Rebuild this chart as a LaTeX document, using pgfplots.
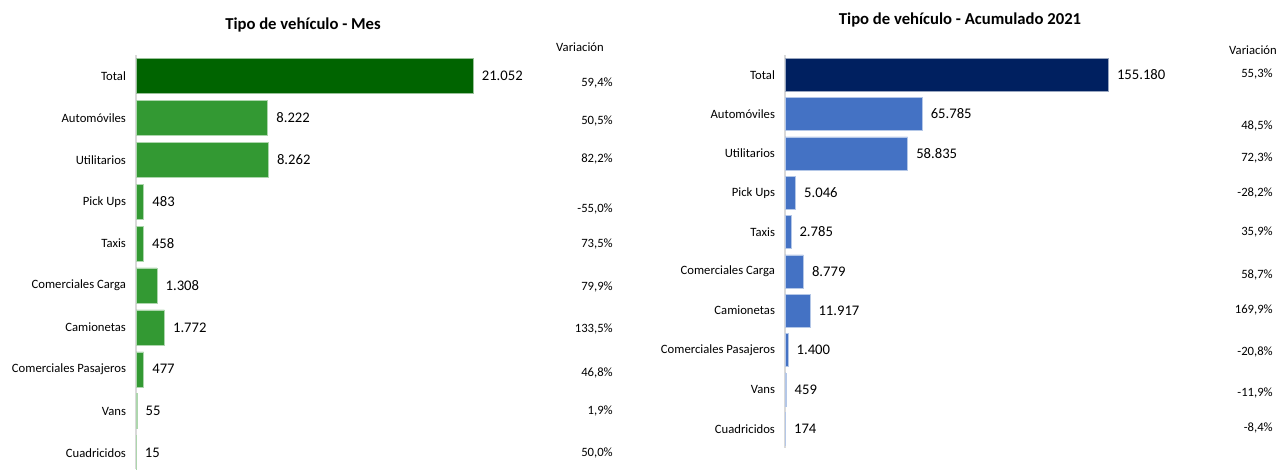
\documentclass[border=0pt]{standalone}
\usepackage{pgfplots}
\pgfplotsset{compat=1.18}
\usepackage{fontspec}
\setmainfont{Carlito}

\definecolor{mesdark}{RGB}{0,100,0}
\definecolor{mesbar}{RGB}{51,153,51}
\definecolor{acudark}{RGB}{0,32,96}
\definecolor{acubar}{RGB}{68,114,196}
\definecolor{axisgray}{RGB}{217,217,217}

\pgfplotsset{
  vehic/.style={
    xbar, scale only axis, anchor=north west,
    y dir=reverse, xmin=0,
    hide x axis, xtick=\empty, scaled x ticks=false,
    axis y line*=left,
    y axis line style={draw=axisgray, line width=0.8pt},
    ytick={0,...,9},
    yticklabels={Total,Automóviles,Utilitarios,Pick Ups,Taxis,Comerciales Carga,Camionetas,Comerciales Pasajeros,Vans,Cuadricidos},
    major tick length=0pt,
    yticklabel style={font=\fontsize{9.5}{10}\selectfont, xshift=-4pt},
    point meta=explicit symbolic,
    nodes near coords,
    nodes near coords style={font=\fontsize{11}{12}\selectfont, anchor=west, xshift=3pt},
    clip=false,
  }
}

\begin{document}
\begin{tikzpicture}
\useasboundingbox (0,0) rectangle (960.75pt,351.75pt);

% --- Mes ---
\begin{axis}[vehic,
  at={(102pt,310.5pt)}, width=307.5pt, height=310.5pt,
  xmax=25600, ymin=-0.5, ymax=9.38,
  bar width=0.835]
\addplot[fill=mesdark, draw=mesdark!40!white, bar shift=0pt]
  table[x=v, y=i, meta=lab] {
  v i lab
  21052 0 21.052
};
\addplot[fill=mesbar, draw=mesbar!40!white, bar shift=0pt]
  table[x=v, y=i, meta=lab] {
  v i lab
  8222 1 8.222
  8262 2 8.262
  483 3 483
  458 4 458
  1308 5 1.308
  1772 6 1.772
  477 7 477
  55 8 55
  15 9 15
};
\end{axis}

% --- Acumulado 2021 ---
\begin{axis}[vehic,
  at={(588.75pt,310.5pt)}, width=300pt, height=295pt,
  xmax=192000, ymin=-0.5, ymax=9.5,
  bar width=0.84]
\addplot[fill=acudark, draw=acudark!40!white, bar shift=0pt]
  table[x=v, y=i, meta=lab] {
  v i lab
  155180 0 155.180
};
\addplot[fill=acubar, draw=acubar!40!white, bar shift=0pt]
  table[x=v, y=i, meta=lab] {
  v i lab
  65785 1 65.785
  58835 2 58.835
  5046 3 5.046
  2785 4 2.785
  8779 5 8.779
  11917 6 11.917
  1400 7 1.400
  459 8 459
  174 9 174
};
\end{axis}

% titles
\node[font=\fontsize{12.5}{14}\selectfont\bfseries] at (227.25pt,333pt) {Tipo de vehículo - Mes};
\node[font=\fontsize{12.5}{14}\selectfont\bfseries] at (720pt,336.75pt) {Tipo de vehículo - Acumulado 2021};

% variación column
\begin{scope}[every node/.style={font=\fontsize{9.5}{11}\selectfont, inner sep=0pt}]
\node at (435pt,316.5pt) {Variación};
\node[anchor=east] at (459.75pt,289.5pt) {59,4\%};
\node[anchor=east] at (459.75pt,261pt) {50,5\%};
\node[anchor=east] at (459.75pt,232.5pt) {82,2\%};
\node[anchor=east] at (459.75pt,195pt) {-55,0\%};
\node[anchor=east] at (459.75pt,168.75pt) {73,5\%};
\node[anchor=east] at (459.75pt,136.5pt) {79,9\%};
\node[anchor=east] at (459.75pt,105pt) {133,5\%};
\node[anchor=east] at (459.75pt,72pt) {46,8\%};
\node[anchor=east] at (459.75pt,43.5pt) {1,9\%};
\node[anchor=east] at (459.75pt,12pt) {50,0\%};

\node at (939.75pt,314.25pt) {Variación};
\node[anchor=east] at (954.75pt,296.25pt) {55,3\%};
\node[anchor=east] at (954.75pt,257.25pt) {48,5\%};
\node[anchor=east] at (954.75pt,233.25pt) {72,3\%};
\node[anchor=east] at (954.75pt,207pt) {-28,2\%};
\node[anchor=east] at (954.75pt,177.75pt) {35,9\%};
\node[anchor=east] at (954.75pt,145.5pt) {58,7\%};
\node[anchor=east] at (954.75pt,119.25pt) {169,9\%};
\node[anchor=east] at (954.75pt,87.75pt) {-20,8\%};
\node[anchor=east] at (954.75pt,57pt) {-11,9\%};
\node[anchor=east] at (954.75pt,30.75pt) {-8,4\%};
\end{scope}
\end{tikzpicture}
\end{document}
